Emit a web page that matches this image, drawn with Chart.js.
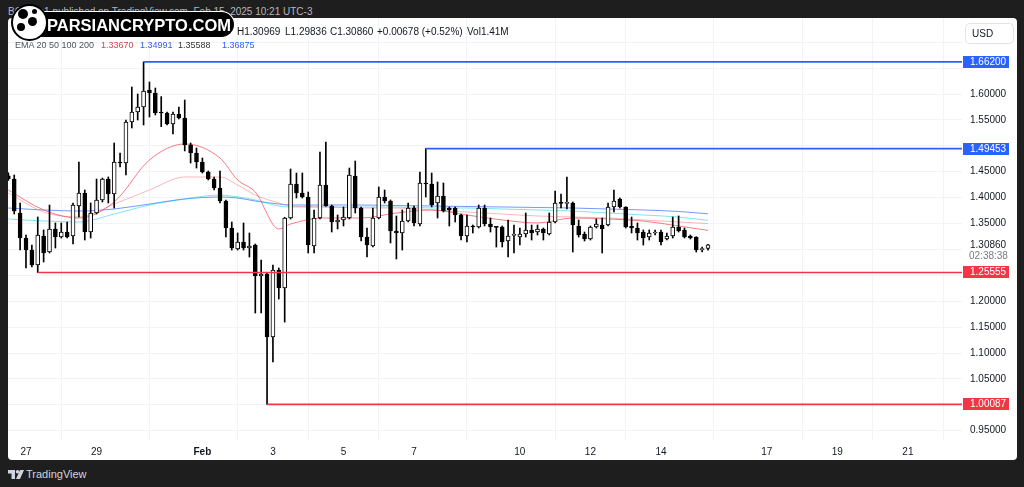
<!DOCTYPE html>
<html>
<head>
<meta charset="utf-8">
<title>XRP / USD 4h</title>
<script src="https://cdn.jsdelivr.net/npm/chart.js@4.4.1/dist/chart.umd.min.js"></script>
<style>
  html, body { margin: 0; padding: 0; }
  body {
    width: 1024px; height: 487px; position: relative; overflow: hidden;
    background: #1e1e1e;
    font-family: "Liberation Sans", Arial, sans-serif;
  }
  #head { position: absolute; left: 8px; top: 6px; font-size: 10px; color: #b2b5be; white-space: nowrap; }
  #panel { position: absolute; left: 8px; top: 18px; width: 1009px; height: 442px; background: #fff; border-radius: 4px; overflow: hidden; }
  #usageChart { position: absolute; left: 0; top: 0; }
  .lg { position: absolute; font-size: 10px; line-height: 12px; color: #131722; white-space: nowrap; }
  .lg2 { position: absolute; font-size: 9px; line-height: 12px; color: #131722; white-space: nowrap; }
  #wm { position: absolute; left: 15px; top: 12px; width: 219px; height: 25px; background: #000; border-radius: 13px; box-shadow: 0 0 0 1px #fff; }
  #wm span { position: absolute; left: 32px; top: 4px; font-size: 16.5px; line-height: 18px; font-weight: bold; color: #fff; }
  #logo { position: absolute; left: 11px; top: 4px; width: 33px; height: 33px; border-radius: 50%; background: #fff; border: 2px solid #000; }
  #logo i { position: absolute; background: #000; border-radius: 50%; }
  #foot { position: absolute; left: 8px; top: 468px; font-size: 11px; line-height: 12px; color: #d1d4dc; white-space: nowrap; }
  #foot svg { vertical-align: -1px; margin-right: 2px; }
</style>
</head>
<body>
<div id="head">BCrypto1 published on TradingView.com, Feb 15, 2025 10:21 UTC-3</div>
<div id="panel"><canvas id="usageChart" width="1009" height="442"></canvas></div>

<div class="lg" style="left:237px; top:26px;">H1.30969</div>
<div class="lg" style="left:285px; top:26px;">L1.29836</div>
<div class="lg" style="left:330px; top:26px;">C1.30860</div>
<div class="lg" style="left:377px; top:26px;">+0.00678 (+0.52%)</div>
<div class="lg" style="left:467px; top:26px;">Vol1.41M</div>

<div class="lg2" style="left:15px; top:39px; color:#50535e;">EMA 20 50 100 200</div>
<div class="lg2" style="left:101px; top:39px; color:#d0454f;">1.33670</div>
<div class="lg2" style="left:140px; top:39px; color:#3a5cd8;">1.34991</div>
<div class="lg2" style="left:178px; top:39px; color:#333;">1.35588</div>
<div class="lg2" style="left:222px; top:39px; color:#2962ff;">1.36875</div>

<div id="wm"><span>PARSIANCRYPTO.COM</span></div>
<div id="logo">
  <i style="left:5px; top:3px; width:10px; height:10px;"></i>
  <i style="left:15px; top:11px; width:9px; height:9px;"></i>
  <i style="left:4px; top:17px; width:8px; height:8px;"></i>
  <i style="left:19px; top:3px; width:5px; height:5px;"></i>
</div>

<div id="foot"><svg width="16" height="9" viewBox="0 0 16 9"><path d="M0 0h7v9H3.5V3.5H0z" fill="#d1d4dc"/><circle cx="9.5" cy="1.8" r="1.8" fill="#d1d4dc"/><path d="M12 0h4l-4 9H8z" fill="#d1d4dc"/></svg>TradingView</div>

<script>
// 4h candles, index 0 = Jan 26 12:00 (UTC-3), last = Feb 15 08:00
const opens = [
  1.4420, 1.4359, 1.3700, 1.3220, 1.2988, 1.2699, 1.3259, 1.2950, 1.3394, 1.3239,
  1.3336, 1.3259, 1.3838, 1.4089, 1.3336, 1.3703, 1.3954, 1.4359, 1.4069, 1.4687,
  1.4668, 1.5459, 1.5653, 1.5749, 1.6077, 1.6019, 1.5653, 1.5633, 1.5421, 1.5614,
  1.5537, 1.5015, 1.4861, 1.4687, 1.4494, 1.4359, 1.4185, 1.3934, 1.3413, 1.3008,
  1.3143, 1.3027, 1.3085, 1.2486, 1.2525, 1.1309, 1.2602, 1.2255, 1.3606, 1.4263,
  1.4089, 1.4012, 1.3066, 1.3606, 1.4243, 1.3838, 1.3529, 1.3568, 1.3606, 1.4417,
  1.3799, 1.3239, 1.3066, 1.3606, 1.4012, 1.3934, 1.3355, 1.3317, 1.3548, 1.3799,
  1.3490, 1.4282, 1.4263, 1.3896, 1.4031, 1.3799, 1.3799, 1.3664, 1.3259, 1.3452,
  1.3432, 1.3799, 1.3490, 1.3432, 1.3432, 1.3162, 1.3270, 1.3239, 1.3297, 1.3375,
  1.3336, 1.3394, 1.3297, 1.3529, 1.3896, 1.3890, 1.3896, 1.3452, 1.3297, 1.3201,
  1.3432, 1.3471, 1.3471, 1.3819, 1.3973, 1.3819, 1.3445, 1.3413, 1.3336, 1.3239,
  1.3317, 1.3336, 1.3201, 1.3259, 1.3432, 1.3375, 1.3259, 1.3239, 1.2990, 1.30182
];
const highs = [
  1.4480, 1.4436, 1.3896, 1.3278, 1.3085, 1.3625, 1.3375, 1.3857, 1.3510, 1.3510,
  1.3529, 1.3896, 1.4687, 1.4147, 1.3896, 1.4359, 1.4378, 1.4398, 1.5054, 1.4861,
  1.5498, 1.6135, 1.6000, 1.6620, 1.6232, 1.6116, 1.5950, 1.5653, 1.5653, 1.5749,
  1.5884, 1.5054, 1.4958, 1.4764, 1.4514, 1.4398, 1.4514, 1.3954, 1.3529, 1.3317,
  1.3510, 1.3317, 1.3104, 1.2795, 1.2545, 1.2699, 1.2641, 1.3620, 1.4552, 1.4475,
  1.4475, 1.4108, 1.3761, 1.4880, 1.5073, 1.3857, 1.3664, 1.3819, 1.4571, 1.4706,
  1.3819, 1.3413, 1.3799, 1.4205, 1.4147, 1.3954, 1.3645, 1.3761, 1.3896, 1.3838,
  1.4494, 1.49453, 1.4475, 1.4301, 1.4282, 1.3819, 1.3819, 1.3683, 1.3664, 1.3471,
  1.3857, 1.3857, 1.3606, 1.3440, 1.3452, 1.3568, 1.3471, 1.3413, 1.3703, 1.3471,
  1.3471, 1.3413, 1.3703, 1.4127, 1.4069, 1.4398, 1.3915, 1.3568, 1.3336, 1.3452,
  1.3587, 1.3606, 1.3896, 1.4147, 1.3992, 1.3825, 1.3625, 1.3510, 1.3375, 1.3375,
  1.3375, 1.3375, 1.3317, 1.3625, 1.3645, 1.3413, 1.3278, 1.3245, 1.3046, 1.30969
];
const lows = [
  1.4330, 1.3683, 1.2988, 1.2641, 1.2660, 1.25555, 1.2757, 1.2931, 1.3027, 1.3220,
  1.3220, 1.3104, 1.3625, 1.3181, 1.3220, 1.3683, 1.3915, 1.3896, 1.3799, 1.4591,
  1.4436, 1.5344, 1.5498, 1.5402, 1.5556, 1.5595, 1.5370, 1.5402, 1.5228, 1.5518,
  1.4900, 1.4668, 1.4571, 1.4475, 1.4340, 1.4147, 1.3896, 1.3239, 1.2988, 1.2988,
  1.2988, 1.2853, 1.1772, 1.1772, 1.00087, 1.0826, 1.2042, 1.1598, 1.3587, 1.3992,
  1.3992, 1.2931, 1.2931, 1.3587, 1.3830, 1.3336, 1.3394, 1.3452, 1.3587, 1.3703,
  1.3162, 1.2853, 1.3046, 1.3590, 1.3896, 1.3124, 1.2815, 1.2988, 1.3529, 1.3452,
  1.3452, 1.4012, 1.3819, 1.3606, 1.3722, 1.3452, 1.3529, 1.3181, 1.3143, 1.3317,
  1.3413, 1.3452, 1.3336, 1.3046, 1.3046, 1.2853, 1.2931, 1.3085, 1.3239, 1.3181,
  1.3278, 1.3181, 1.3278, 1.3510, 1.3799, 1.3780, 1.2950, 1.3239, 1.3162, 1.3181,
  1.3413, 1.2931, 1.3452, 1.3722, 1.3799, 1.3413, 1.3317, 1.3181, 1.3085, 1.3181,
  1.3278, 1.3085, 1.3181, 1.3220, 1.3336, 1.3220, 1.3201, 1.2950, 1.2950, 1.29836
];
const closes = [
  1.4360, 1.3741, 1.3220, 1.2988, 1.2699, 1.3278, 1.2931, 1.3394, 1.3239, 1.3336,
  1.3239, 1.3857, 1.4089, 1.3336, 1.3703, 1.3954, 1.4359, 1.4069, 1.4687, 1.4668,
  1.5459, 1.5653, 1.5749, 1.6058, 1.6019, 1.5633, 1.5633, 1.5421, 1.5614, 1.5537,
  1.5015, 1.4861, 1.4687, 1.4494, 1.4359, 1.4185, 1.3934, 1.3413, 1.3027, 1.3143,
  1.3027, 1.3066, 1.2486, 1.2525, 1.1309, 1.2602, 1.2255, 1.3606, 1.4263, 1.4089,
  1.4012, 1.3085, 1.3606, 1.4243, 1.3838, 1.3529, 1.3568, 1.3625, 1.4436, 1.3799,
  1.3239, 1.3085, 1.3606, 1.4012, 1.3934, 1.3355, 1.3317, 1.3548, 1.3799, 1.3510,
  1.4282, 1.4263, 1.3857, 1.4031, 1.3741, 1.3761, 1.3664, 1.3259, 1.3452, 1.3432,
  1.3799, 1.3490, 1.3432, 1.3425, 1.3143, 1.3259, 1.3278, 1.3297, 1.3375, 1.3317,
  1.3394, 1.3317, 1.3529, 1.3896, 1.3890, 1.3896, 1.3471, 1.3278, 1.3201, 1.3432,
  1.3490, 1.3394, 1.3819, 1.3934, 1.3819, 1.3432, 1.3413, 1.3317, 1.3220, 1.3317,
  1.3336, 1.3143, 1.3259, 1.3432, 1.3355, 1.3239, 1.3220, 1.2988, 1.30182, 1.30860
];

// EMA lines read at these candle indices
const emaIdx = [0, 6, 12, 18, 24, 30, 36, 39, 42, 46, 48, 54, 60, 66, 72, 78, 84, 90, 96, 102, 108, 114, 119];
const ema20  = [1.4147, 1.3761, 1.3606, 1.3915, 1.4726, 1.5035, 1.4764, 1.4340, 1.4108, 1.3394, 1.3490, 1.3606,
                1.3606, 1.3703, 1.3761, 1.3664, 1.3568, 1.3510, 1.3606, 1.3587, 1.3548, 1.3452, 1.3367];
const ema50  = [1.4089, 1.3722, 1.3625, 1.3876, 1.4147, 1.4398, 1.4398, 1.4243, 1.4050, 1.3896, 1.3838, 1.3819,
                1.3799, 1.3799, 1.3761, 1.3722, 1.3683, 1.3645, 1.3625, 1.3606, 1.3568, 1.3529, 1.3499];
const ema100 = [1.3587, 1.3548, 1.3529, 1.3683, 1.3857, 1.3973, 1.4050, 1.4012, 1.3954, 1.3838, 1.3819, 1.3819,
                1.3819, 1.3819, 1.3799, 1.3799, 1.3780, 1.3761, 1.3741, 1.3703, 1.3664, 1.3625, 1.3559];
const ema200 = [1.3799, 1.3761, 1.3741, 1.3780, 1.3876, 1.3973, 1.4012, 1.3992, 1.3934, 1.3876, 1.3857, 1.3857,
                1.3857, 1.3847, 1.3838, 1.3828, 1.3819, 1.3809, 1.3799, 1.3780, 1.3761, 1.3732, 1.36875];

// horizontal levels drawn on the chart (price, start candle)
const levelPrices = [1.66200, 1.49453, 1.25555, 1.00087];
const levelStart  = [23, 71, 5, 44];
const levelColors = ['#2962ff', '#2962ff', '#f23645', '#f23645'];
const lastPrice = 1.30860;
const countdown = '02:38:38';

const timeTicks  = [3, 15, 33, 45, 57, 69, 87, 99, 111, 129, 141, 153];
const timeLabels = ['27', '29', 'Feb', '3', '5', '7', '10', '12', '14', '17', '19', '21'];
const priceTicks = [0.95, 1.00, 1.05, 1.10, 1.15, 1.20, 1.25, 1.30, 1.35, 1.40, 1.45, 1.50, 1.55, 1.60, 1.65, 1.70];

const X_MIN = -0.06, X_MAX = 162.2;
const Y_MIN = 0.93205, Y_MAX = 1.74672;
const FONT = '"Liberation Sans", Arial, sans-serif';

// keep the plot area exactly where the fixed axis sizes put it
const noPad = (s) => {
  s.paddingTop = 0; s.paddingBottom = 0; s.paddingLeft = 0; s.paddingRight = 0;
};

document.addEventListener('DOMContentLoaded', () => {
  const canvas = document.getElementById('usageChart');
  if (!canvas || !window.Chart) {
    console.warn('Chart.js not found or canvas missing.');
    return;
  }

  const idx = opens.map((_, i) => i);
  const bodyColor = idx.map(i => (closes[i] >= opens[i] ? '#ffffff' : '#000000'));

  const emaSet = (vals, color) => ({
    type: 'line',
    data: emaIdx.map((x, k) => ({ x, y: vals[k] })),
    borderColor: color,
    borderWidth: 1,
    pointRadius: 0,
    cubicInterpolationMode: 'monotone',
    order: 3
  });

  const levelSets = levelPrices.map((p, k) => ({
    type: 'line',
    data: [{ x: levelStart[k], y: p }, { x: X_MAX, y: p }],
    borderColor: levelColors[k],
    borderWidth: 1.6,
    pointRadius: 0,
    order: 0
  }));

  const tagValues = levelPrices.concat([lastPrice]);

  // price tags, current price and the USD button on the right scale
  const priceTags = {
    id: 'priceTags',
    afterDraw(chart) {
      const { ctx } = chart;
      const ys = chart.scales.y;
      const left = ys.left;
      ctx.save();
      ctx.font = `10px ${FONT}`;
      ctx.textBaseline = 'middle';
      ctx.textAlign = 'left';
      levelPrices.forEach((p, k) => {
        const y = Math.round(ys.getPixelForValue(p));
        ctx.fillStyle = levelColors[k];
        ctx.fillRect(left + 1, y - 6, 46, 12);
        ctx.fillStyle = '#ffffff';
        ctx.fillText(p.toFixed(5), left + 8, y + 0.5);
      });
      const yl = ys.getPixelForValue(lastPrice);
      ctx.fillStyle = '#131722';
      ctx.fillText(lastPrice.toFixed(5), left + 8, yl);
      ctx.fillStyle = '#787b86';
      ctx.fillText(countdown, left + 7, yl + 11);

      // USD button
      const bx = left + 3, by = 5, bw = 48, bh = 20;
      ctx.beginPath();
      ctx.roundRect(bx + 0.5, by + 0.5, bw, bh, 4);
      ctx.fillStyle = '#ffffff';
      ctx.fill();
      ctx.strokeStyle = '#e0e3eb';
      ctx.lineWidth = 1;
      ctx.stroke();
      ctx.fillStyle = '#131722';
      ctx.fillText('USD', left + 10, by + bh / 2 + 1);
      ctx.restore();
    }
  };

  new Chart(canvas.getContext('2d'), {
    type: 'bar',
    data: {
      datasets: [
        emaSet(ema20, 'rgba(242, 54, 69, 0.65)'),
        emaSet(ema50, 'rgba(247, 124, 128, 0.55)'),
        emaSet(ema100, 'rgba(0, 200, 230, 0.5)'),
        emaSet(ema200, 'rgba(41, 98, 255, 0.65)'),
        {
          label: 'wicks',
          data: idx.map(i => ({ x: i, y: [lows[i], highs[i]] })),
          backgroundColor: '#000000',
          borderWidth: 0,
          barThickness: 1,
          grouped: false,
          order: 2
        },
        {
          label: 'bodies',
          data: idx.map(i => ({ x: i, y: [opens[i], closes[i]] })),
          backgroundColor: bodyColor,
          borderColor: '#000000',
          borderWidth: 1,
          borderSkipped: false,
          barThickness: 4,
          minBarLength: 1,
          grouped: false,
          order: 1
        },
        ...levelSets
      ]
    },
    options: {
      responsive: false,
      animation: false,
      layout: { padding: 0, autoPadding: false },
      plugins: {
        legend: { display: false },
        tooltip: { enabled: false }
      },
      scales: {
        x: {
          type: 'linear',
          min: X_MIN,
          max: X_MAX,
          offset: false,
          grid: { color: '#f1f3f6', drawTicks: false },
          border: { display: false },
          afterBuildTicks: (s) => { s.ticks = timeTicks.map(v => ({ value: v })); },
          afterFit: (s) => { s.height = 20; noPad(s); },
          ticks: {
            autoSkip: false,
            maxRotation: 0,
            padding: 6,
            color: '#131722',
            font: (c) => ({ family: FONT, size: 10, weight: timeLabels[c.index] === 'Feb' ? 'bold' : 'normal' }),
            callback: (v, i) => timeLabels[i]
          }
        },
        y: {
          position: 'right',
          min: Y_MIN,
          max: Y_MAX,
          grid: { color: '#f1f3f6', drawTicks: false },
          border: { display: false },
          afterBuildTicks: (s) => { s.ticks = priceTicks.map(v => ({ value: v })); },
          afterFit: (s) => { s.width = 55; noPad(s); },
          ticks: {
            padding: 8,
            crossAlign: 'near',
            color: '#131722',
            font: { family: FONT, size: 10 },
            callback: (v) => {
              if (v > 1.68) return '';
              if (tagValues.some(t => Math.abs(t - v) < 0.03)) return '';
              return v.toFixed(5);
            }
          }
        }
      }
    },
    plugins: [priceTags]
  });
});
</script>
</body>
</html>
